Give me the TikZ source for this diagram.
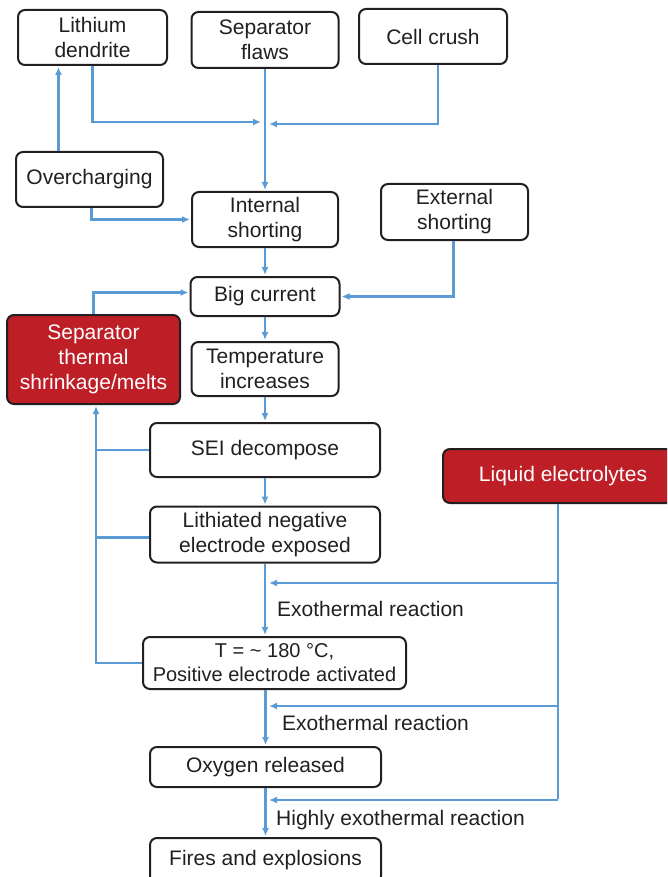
\documentclass[tikz,border=0pt]{standalone}
\usepackage{fontspec}
\setmainfont{Liberation Sans}
\usepackage{xcolor}
\usetikzlibrary{positioning,arrows.meta}

\definecolor{flowblue}{RGB}{91,155,213}
\definecolor{hotred}{RGB}{190,30,38}
\definecolor{ink}{RGB}{35,31,32}

\begin{document}
\begin{tikzpicture}[x=1pt,y=-1pt,shorten >=1pt,
    box/.style={draw=ink,line width=2pt,rounded corners=7pt,inner sep=0pt,align=center,
        text=ink,font=\fontsize{21}{25}\selectfont},
    hot/.style={box,fill=hotred,text=white},
    lbl/.style={anchor=base west,inner sep=0pt,text=ink,font=\fontsize{21}{25}\selectfont},
    flow/.style={flowblue,line width=2.5pt},
    >={Latex[length=8pt,width=7pt]}]
    	\clip (0,0) rectangle (667,877);
    	% causes
    	\node[box,minimum width=149pt,minimum height=55pt] (lith) at (92.5,37.5) {Lithium\\dendrite};
    	\node[box,minimum width=147pt,minimum height=56pt] (sepf) at (265,40) {Separator\\flaws};
    	\node[box,minimum width=148pt,minimum height=55pt] (crush) at (433,36.5) {Cell crush};
    	\node[box,minimum width=147pt,minimum height=55pt] (over) at (89.5,179.5) {Overcharging};
    	\node[box,minimum width=146pt,minimum height=55pt] (ints) at (265,219.5) {Internal\\shorting};
    	\node[box,minimum width=147pt,minimum height=56pt] (exts) at (454.5,212) {External\\shorting};
    	% chain
    	\node[box,minimum width=149pt,minimum height=39pt] (big) at (265,296.5) {Big current};
    	\node[hot,minimum width=173pt,minimum height=89pt] (shrink) at (93.5,359.5) {Separator\\thermal\\shrinkage/melts};
    	\node[box,minimum width=147pt,minimum height=54pt] (temp) at (265,369) {Temperature\\increases};
    	\node[box,minimum width=230pt,minimum height=54pt] (sei) at (265,450) {SEI decompose};
    	\node[box,minimum width=230pt,minimum height=56pt] (lneg) at (265,534.5) {Lithiated negative\\electrode exposed};
    	\node[hot,minimum width=240pt,minimum height=54pt] (liq) at (563,476) {Liquid electrolytes};
    	\node[box,minimum width=263pt,minimum height=52pt,font=\fontsize{20}{24}\selectfont] (T) at (274.5,663)
    	    {T = \textasciitilde{} 180 °C,\\Positive electrode activated};
    	\node[box,minimum width=231pt,minimum height=40pt] (oxy) at (265.5,767) {Oxygen released};
    	\node[box,minimum width=231pt,minimum height=45pt] (fire) at (265.5,860.5) {Fires and explosions};
    	% reaction labels
    	\node[lbl] (ex1) at (277,616) {Exothermal reaction};
    	\node[lbl] (ex2) at (282,730) {Exothermal reaction};
    	\node[lbl] (ex3) at (276,825) {Highly exothermal reaction};
    	% junctions
    	\coordinate (jl) at (262,122);
    	\coordinate (jr) at (268,124);
    	\coordinate (fb) at (96,0);
    	\draw[->,flow] (lith.south) |- (jl);
    	\draw[->,flow] ([xshift=5pt]crush.south) |- (jr);
    	\draw[->,flow] ([xshift=-31pt]over.north) -- ([xshift=-31pt]over.north |- lith.south);
    	\draw[->,flow] ([xshift=2pt]over.south) |- (ints.west);
    	\draw[->,flow] ([xshift=-1pt]exts.south) |- (big.east);
    	\draw[->,flow] (shrink.north) |- ([yshift=4pt]big.west);
    	\path[->,flow]
    	(sepf) edge (ints)
    	(ints) edge (big)
    	(big) edge (temp)
    	(temp) edge (sei)
    	(sei) edge (lneg)
    	(lneg) edge (lneg |- T.north)
    	(T.south -| oxy) edge (oxy)
    	(oxy) edge (fire);
    	% feedback to the separator
    	\draw[->,flow] (T.west) -| ([xshift=2.5pt]shrink.south);
    	\draw[flow] (sei.west) -- (sei.west -| fb);
    	\draw[flow] ([yshift=-3pt]lneg.west) -- ([yshift=-3pt]lneg.west -| fb);
    	% electrolyte feeds
    	\foreach \n/\y in {a/583,b/706,c/800} {
    	    \coordinate (r\n) at (558,\y);
    	    \coordinate (l\n) at (268,\y);
    	    \draw[->,flow] (r\n) -- (l\n);
    	}
    	\draw[flow] ([xshift=-5pt]liq.south) -- (rc);
\end{tikzpicture}
\end{document}
